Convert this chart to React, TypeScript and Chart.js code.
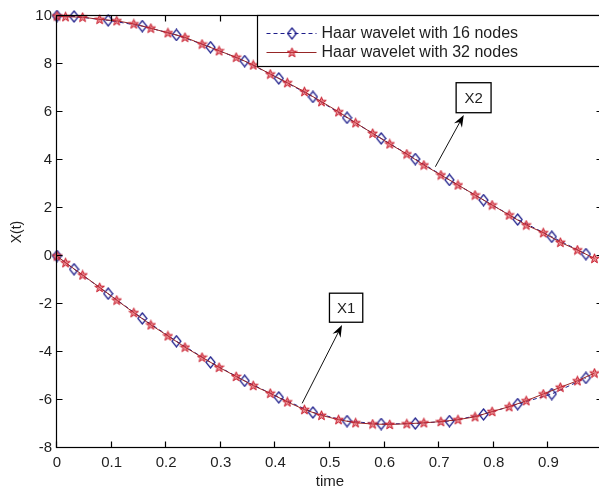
import React, { useEffect, useRef } from 'react';
import { Chart, registerables } from 'chart.js';

Chart.register(...registerables);

// ---------- data ----------
const legendLabels = ['Haar wavelet with 16 nodes', 'Haar wavelet with 32 nodes'];

const time16 = [0, 0.03125, 0.09375, 0.15625, 0.21875, 0.28125, 0.34375, 0.40625, 0.46875,
  0.53125, 0.59375, 0.65625, 0.71875, 0.78125, 0.84375, 0.90625, 0.96875];
const x1Haar16 = [0, -0.55, -1.57, -2.6, -3.55, -4.43, -5.2, -5.89, -6.52, -6.88, -7.0, -6.98,
  -6.88, -6.6, -6.17, -5.75, -5.08];
const x2Haar16 = [10, 9.98, 9.82, 9.58, 9.21, 8.7, 8.12, 7.4, 6.63, 5.76, 4.9, 4.04, 3.17,
  2.33, 1.52, 0.8, 0.08];

const time32 = [0, 0.015625, 0.046875, 0.078125, 0.109375, 0.140625, 0.171875, 0.203125,
  0.234375, 0.265625, 0.296875, 0.328125, 0.359375, 0.390625, 0.421875, 0.453125, 0.484375,
  0.515625, 0.546875, 0.578125, 0.609375, 0.640625, 0.671875, 0.703125, 0.734375, 0.765625,
  0.796875, 0.828125, 0.859375, 0.890625, 0.921875, 0.953125, 0.984375];
const x1Haar32 = [0, -0.28, -0.79, -1.31, -1.84, -2.36, -2.87, -3.33, -3.8, -4.22, -4.64, -5.02,
  -5.4, -5.72, -6.08, -6.4, -6.64, -6.82, -6.95, -7.0, -7.02, -6.99, -6.95, -6.9, -6.82, -6.7,
  -6.48, -6.28, -6.03, -5.75, -5.47, -5.2, -4.88];
const x2Haar32 = [10, 9.97, 9.95, 9.86, 9.8, 9.67, 9.49, 9.3, 9.11, 8.83, 8.55, 8.28, 7.96,
  7.58, 7.22, 6.85, 6.43, 6.01, 5.55, 5.11, 4.67, 4.25, 3.79, 3.375, 2.96, 2.54, 2.125, 1.71,
  1.29, 0.97, 0.57, 0.25, -0.1];

const xTicks = { min: 0, max: 1, step: 0.1 };
const yTicks = { min: -8, max: 10, step: 2 };

// annotations in data units: label box (x0,x1,yTop,yBottom), arrow tail -> head
const annotations = [
  { text: 'X1', box: [0.499, 0.56, -1.55, -2.76], tail: [0.449, -6.14], head: [0.522, -2.875] },
  { text: 'X2', box: [0.731, 0.795, 7.22, 5.97], tail: [0.693, 3.72], head: [0.745, 5.875] },
];

// ---------- styles ----------
const FONT = '"Liberation Sans", Arial, Helvetica, sans-serif';
const TEXT = '#1e1e1e';
const BLUE = '#1c1c8a';
const RED_MARK = '#c81c2c';
const RED_LINE = '#962626';

function makeDiamond(color: string) {
  const c = document.createElement('canvas');
  c.width = 11; c.height = 13;
  const g = c.getContext('2d')!;
  g.strokeStyle = color; g.lineWidth = 1.2;
  g.beginPath();
  g.moveTo(5.5, 1); g.lineTo(10, 6.5); g.lineTo(5.5, 12); g.lineTo(1, 6.5);
  g.closePath(); g.stroke();
  return c;
}

function makeStar(stroke: string, fill: string) {
  const c = document.createElement('canvas');
  c.width = 11; c.height = 11;
  const g = c.getContext('2d')!;
  const cx = 5.5, cy = 5.8, R = 5.0, r = 2.1;
  g.beginPath();
  for (let i = 0; i < 10; i++) {
    const ang = -Math.PI / 2 + (i * Math.PI) / 5;
    const rad = i % 2 === 0 ? R : r;
    const px = cx + rad * Math.cos(ang), py = cy + rad * Math.sin(ang);
    if (i === 0) g.moveTo(px, py); else g.lineTo(px, py);
  }
  g.closePath();
  g.fillStyle = fill; g.fill();
  g.strokeStyle = stroke; g.lineWidth = 1; g.stroke();
  return c;
}

const zip = (xs: number[], ys: number[]) => xs.map((x, i) => ({ x, y: ys[i] }));

export default function App() {
  const ref = useRef<HTMLCanvasElement>(null);

  useEffect(() => {
    const canvas = ref.current!;
    const diamond = makeDiamond(BLUE);
    const star = makeStar(RED_MARK, 'rgba(215,60,70,0.6)');

    const framePlugin = {
      id: 'matlabFrame',
      afterDatasetsDraw(chart: any) {
        const { ctx, chartArea: a, scales } = chart;
        const xs = scales.x, ys = scales.y;
        ctx.save();
        ctx.strokeStyle = '#000';
        ctx.lineWidth = 1.2;
        const L = Math.round(a.left) - 0.5, R = Math.round(a.right) - 0.5;
        const T = Math.round(a.top) - 0.5, B = Math.round(a.bottom) - 0.5;
        ctx.strokeRect(L, T, R - L, B - T);
        ctx.beginPath();
        xs.ticks.forEach((t: any) => {
          const p = Math.round(xs.getPixelForValue(t.value)) - 0.5;
          ctx.moveTo(p, B); ctx.lineTo(p, B - 6);
          ctx.moveTo(p, T); ctx.lineTo(p, T + 6);
        });
        ys.ticks.forEach((t: any) => {
          const p = Math.round(ys.getPixelForValue(t.value)) - 0.5;
          ctx.moveTo(L, p); ctx.lineTo(L + 6, p);
          ctx.moveTo(R, p); ctx.lineTo(R - 6, p);
        });
        ctx.stroke();

        // annotations
        annotations.forEach((an) => {
          const bx0 = xs.getPixelForValue(an.box[0]);
          const bx1 = xs.getPixelForValue(an.box[1]);
          const by0 = ys.getPixelForValue(an.box[2]);
          const by1 = ys.getPixelForValue(an.box[3]);
          ctx.fillStyle = '#fff';
          ctx.fillRect(bx0, by0, bx1 - bx0, by1 - by0);
          ctx.strokeStyle = '#000';
          ctx.lineWidth = 1.3;
          ctx.strokeRect(bx0, by0, bx1 - bx0, by1 - by0);
          ctx.fillStyle = TEXT;
          ctx.font = `15px ${FONT}`;
          ctx.textAlign = 'center';
          ctx.textBaseline = 'middle';
          ctx.fillText(an.text, (bx0 + bx1) / 2, (by0 + by1) / 2 + 1);

          const tx = xs.getPixelForValue(an.tail[0]), ty = ys.getPixelForValue(an.tail[1]);
          const hx = xs.getPixelForValue(an.head[0]), hy = ys.getPixelForValue(an.head[1]);
          const ang = Math.atan2(hy - ty, hx - tx);
          const len = 11, hw = 4.5;
          const bxp = hx - len * Math.cos(ang), byp = hy - len * Math.sin(ang);
          ctx.strokeStyle = '#111';
          ctx.lineWidth = 1;
          ctx.beginPath();
          ctx.moveTo(tx, ty);
          ctx.lineTo(bxp + 3 * Math.cos(ang), byp + 3 * Math.sin(ang));
          ctx.stroke();
          const nx = -Math.sin(ang), ny = Math.cos(ang);
          ctx.fillStyle = '#000';
          ctx.beginPath();
          ctx.moveTo(hx, hy);
          ctx.lineTo(bxp + hw * nx - 1 * Math.cos(ang), byp + hw * ny - 1 * Math.sin(ang));
          ctx.lineTo(bxp + 3 * Math.cos(ang), byp + 3 * Math.sin(ang));
          ctx.lineTo(bxp - hw * nx - 1 * Math.cos(ang), byp - hw * ny - 1 * Math.sin(ang));
          ctx.closePath();
          ctx.fill();
        });

        // legend
        const lgL = 257.5, lgT = Math.round(a.top) - 0.5, lgB = 66.5, lgR = a.right + 20;
        ctx.fillStyle = '#fff';
        ctx.fillRect(lgL, lgT, lgR - lgL, lgB - lgT);
        ctx.strokeStyle = '#000';
        ctx.lineWidth = 1.2;
        ctx.strokeRect(lgL, lgT, lgR - lgL, lgB - lgT);
        const entries = [
          { label: legendLabels[0], color: BLUE, dash: [4, 3], img: diamond, y: 33.5 },
          { label: legendLabels[1], color: RED_LINE, dash: [], img: star, y: 52.5 },
        ];
        entries.forEach((e) => {
          ctx.strokeStyle = e.color;
          ctx.lineWidth = 1;
          ctx.setLineDash(e.dash);
          ctx.beginPath();
          ctx.moveTo(266.5, e.y); ctx.lineTo(316.5, e.y);
          ctx.stroke();
          ctx.setLineDash([]);
          ctx.drawImage(e.img, 292 - e.img.width / 2, e.y - e.img.height / 2);
          ctx.fillStyle = TEXT;
          ctx.font = `16px ${FONT}`;
          ctx.textAlign = 'left';
          ctx.textBaseline = 'middle';
          ctx.fillText(e.label, 321.5, e.y + 0.5);
        });
        ctx.restore();
      },
    };

    const common = { borderWidth: 1, pointRadius: 4, tension: 0, clip: false as any, fill: false };

    const chart = new Chart(canvas, {
      type: 'line',
      data: {
        datasets: [
          { ...common, label: legendLabels[1], data: zip(time32, x1Haar32), borderColor: RED_LINE, pointStyle: star as any },
          { ...common, label: legendLabels[1], data: zip(time32, x2Haar32), borderColor: RED_LINE, pointStyle: star as any },
          { ...common, label: legendLabels[0], data: zip(time16, x1Haar16), borderColor: BLUE, borderDash: [4, 3], pointStyle: diamond as any },
          { ...common, label: legendLabels[0], data: zip(time16, x2Haar16), borderColor: BLUE, borderDash: [4, 3], pointStyle: diamond as any },
        ],
      },
      options: {
        animation: false,
        responsive: false,
        devicePixelRatio: 1,
        events: [],
        layout: { padding: { top: 16, right: 17, left: 0, bottom: 0 } },
        plugins: { legend: { display: false }, tooltip: { enabled: false } },
        scales: {
          x: {
            type: 'linear',
            min: xTicks.min,
            max: xTicks.max,
            grid: { display: false, drawTicks: false },
            border: { display: false },
            ticks: {
              stepSize: xTicks.step,
              padding: 6,
              color: TEXT,
              font: { family: FONT, size: 15 },
              maxRotation: 0,
              callback: (v: any) => (Number(v) > 0.95 ? '' : String(Math.round(Number(v) * 10) / 10)),
            },
            title: { display: true, text: 'time', color: TEXT, font: { family: FONT, size: 15 }, padding: { top: 0, bottom: 1 } },
            afterFit: (s: any) => { s.height = 44; },
          },
          y: {
            type: 'linear',
            min: yTicks.min,
            max: yTicks.max,
            grid: { display: false, drawTicks: false },
            border: { display: false },
            ticks: { stepSize: yTicks.step, padding: 5, color: TEXT, font: { family: FONT, size: 15 } },
            title: { display: true, text: 'X(t)', color: TEXT, font: { family: FONT, size: 14 }, padding: { top: 9, bottom: 0 } },
            afterFit: (s: any) => { s.width = 57; },
          },
        },
      },
      plugins: [framePlugin],
    });
    return () => chart.destroy();
  }, []);

  return (
    <div style={{ position: 'fixed', left: 0, top: 0, width: 599, height: 492, overflow: 'hidden', background: '#fff' }}>
      <canvas ref={ref} width={620} height={492} style={{ display: 'block', width: 620, height: 492 }} />
    </div>
  );
}
